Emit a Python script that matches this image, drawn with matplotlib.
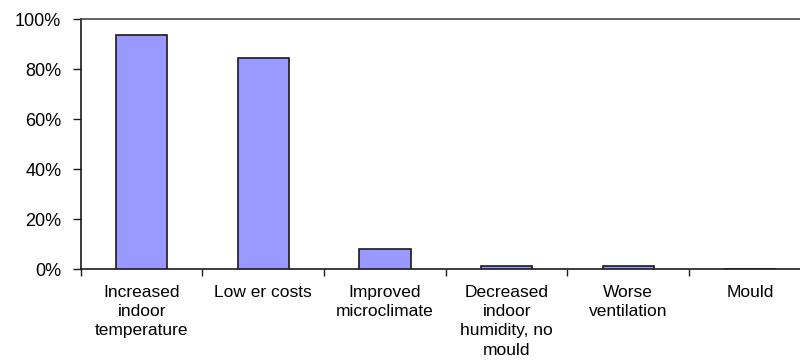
import matplotlib as mpl
mpl.use("Agg")
import matplotlib.pyplot as plt
import numpy as np
from matplotlib.ticker import FuncFormatter, FixedLocator

categories = ["Increased\nindoor\ntemperature", "Low er costs", "Improved\nmicroclimate",
              "Decreased\nindoor\nhumidity, no\nmould", "Worse\nventilation", "Mould"]
shares = [93.5, 84.5, 8.2, 1.4, 1.4, 0.0]
y_ticks = [0, 20, 40, 60, 80, 100]

plt.rcParams["font.family"] = ["Liberation Sans", "DejaVu Sans"]

BAR = "#9999FF"
EDGE = "#1a1a1a"

fig = plt.figure(figsize=(8, 3.6), dpi=100, facecolor="white")
ax = fig.add_axes([0.101, 0.252, 0.9125, 0.695])

x = np.arange(len(categories))
ax.bar(x, shares, width=0.42, color=BAR, edgecolor=EDGE, linewidth=1.2, zorder=3)

ax.set_xlim(-0.5, len(categories) - 0.5)
ax.set_ylim(0, 100)
ax.set_yticks(y_ticks)
ax.yaxis.set_major_formatter(FuncFormatter(lambda v, p: f"{v:.0f}%"))

# labels centred under bars, tick marks on the category boundaries
ax.set_xticks(x)
ax.set_xticklabels(categories, linespacing=1.36, fontsize=12.5)
ax.xaxis.set_minor_locator(FixedLocator(np.arange(-0.5, len(categories), 1.0)))
ax.tick_params(axis="x", which="major", length=0, pad=11)
ax.tick_params(axis="x", which="minor", length=5, width=1, color=EDGE, direction="out")
ax.tick_params(axis="y", which="major", length=6, width=1, color=EDGE,
               labelsize=13, pad=8)

for side in ["left", "bottom", "top"]:
    ax.spines[side].set_edgecolor(EDGE)
    ax.spines[side].set_linewidth(1.2)
ax.spines["top"].set_edgecolor("#444444")
ax.spines["right"].set_visible(False)

fig.savefig("out.png", dpi=100, facecolor="white")
